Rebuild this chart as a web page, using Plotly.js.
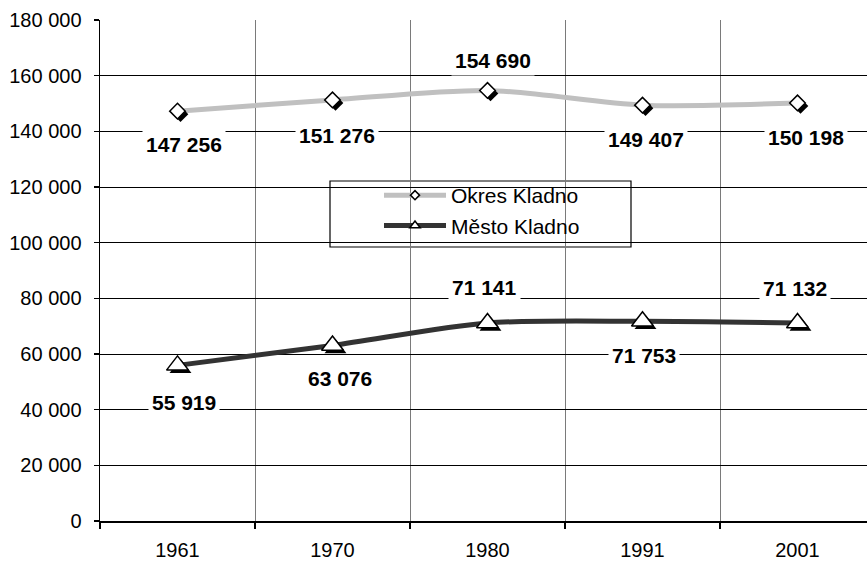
<!DOCTYPE html>
<html>
<head>
<meta charset="utf-8">
<script src="https://cdn.plot.ly/plotly-3.0.1.min.js"></script>
<style>html,body{margin:0;padding:0;background:#fff;overflow:hidden;}</style>
</head>
<body>
<div id="chart" style="width:867px;height:562px;"></div>
<script>
// ---- data ----
const years = ["1961", "1970", "1980", "1991", "2001"];
const okresName = "Okres Kladno";
const mestoName = "Město Kladno";
const okresValues = [147256, 151276, 154690, 149407, 150198];
const mestoValues = [55919, 63076, 71141, 71753, 71132];
const yTickValues = [0, 20000, 40000, 60000, 80000, 100000, 120000, 140000, 160000, 180000];

// ---- layout constants (positions / styles) ----
const W = 867, H = 562, L = 100, T = 20, B = 41;
const plotW = W - L, plotH = H - T - B;
const catPx = 155;
const xr = [-0.5, -0.5 + plotW / catPx];
const yr = [0, 180000];
const unitY = (yr[1] - yr[0]) / plotH;
const sh = 3; // shadow offset px
const FONT = "Liberation Sans, Arial, sans-serif";

const okresShift = [[6, -33], [4, -36], [5, 30], [3, -34], [8, -35]];
const mestoShift = [[6, -37], [7, -33], [-3, 35], [1, -34], [-3, 35]];

function fmt(v) { return String(v).replace(/\B(?=(\d{3})+(?!\d))/g, "\u00a0"); }

const okresColor = "#c0c0c0", mestoColor = "#333333";

const traces = [
  // lines
  {x: years, y: okresValues, type: "scatter", mode: "lines", line: {color: okresColor, width: 5, shape: "spline", smoothing: 0.8}, showlegend: false, hoverinfo: "skip"},
  {x: years, y: mestoValues, type: "scatter", mode: "lines", line: {color: mestoColor, width: 5, shape: "spline", smoothing: 0.8}, showlegend: false, hoverinfo: "skip"},
  // shadows
  {x: years, y: okresValues, xaxis: "x2", yaxis: "y2", type: "scatter", mode: "markers", marker: {symbol: "diamond", size: 12, color: "#000", line: {width: 0}}, showlegend: false, hoverinfo: "skip"},
  {x: years, y: mestoValues, xaxis: "x2", yaxis: "y2", type: "scatter", mode: "markers", marker: {symbol: "triangle-up", size: 19, color: "#000", line: {width: 0}}, showlegend: false, hoverinfo: "skip"},
  // white markers
  {x: years, y: okresValues, xaxis: "x3", yaxis: "y3", type: "scatter", mode: "markers", marker: {symbol: "diamond", size: 12, color: "#fff", line: {width: 1.5, color: "#000"}}, showlegend: false, hoverinfo: "skip"},
  {x: years, y: mestoValues, xaxis: "x3", yaxis: "y3", type: "scatter", mode: "markers", marker: {symbol: "triangle-up", size: 19, color: "#fff", line: {width: 1.5, color: "#000"}}, showlegend: false, hoverinfo: "skip"},
  // legend entries
  {x: [null], y: [null], name: okresName, type: "scatter", mode: "lines+markers", line: {color: okresColor, width: 5}, marker: {symbol: "diamond", size: 7, color: "#fff", line: {width: 1.5, color: "#000"}}},
  {x: [null], y: [null], name: mestoName, type: "scatter", mode: "lines+markers", line: {color: mestoColor, width: 5}, marker: {symbol: "triangle-up", size: 9, color: "#fff", line: {width: 1.5, color: "#000"}}}
];

const annotations = [];
function addLabels(values, shifts) {
  values.forEach((v, i) => annotations.push({
    x: i, y: v, xref: "x", yref: "y", text: "<b>" + fmt(v) + "</b>", showarrow: false,
    xshift: shifts[i][0], yshift: shifts[i][1], bgcolor: "#fff", borderpad: 3,
    font: {family: FONT, size: 21, color: "#000"}
  }));
}
addLabels(okresValues, okresShift);
addLabels(mestoValues, mestoShift);

const px = p => (p - L) / plotW;
const py = p => (H - B - p) / plotH;

const layout = {
  width: W, height: H,
  margin: {l: L, r: 0, t: T, b: B, pad: 0},
  paper_bgcolor: "#fff", plot_bgcolor: "#fff",
  separators: ", ",
  font: {family: FONT, size: 20, color: "#000"},
  showlegend: true,
  legend: {x: px(379), y: py(175), xanchor: "left", yanchor: "top", bgcolor: "rgba(0,0,0,0)", borderwidth: 0, itemwidth: 62, font: {family: FONT, size: 21, color: "#000"}, tracegroupgap: 0},
  xaxis: {type: "category", categoryarray: years, range: xr, tickson: "boundaries", ticks: "outside", ticklen: 6, tickcolor: "#000", tickwidth: 1.5,
          showgrid: true, gridcolor: "#7a7a7a", gridwidth: 1, showline: true, linecolor: "#000", linewidth: 1.5, ticklabelstandoff: 10,
          tickfont: {family: FONT, size: 20, color: "#000"}, fixedrange: true},
  yaxis: {range: yr, tickvals: yTickValues, tickformat: ",d", ticks: "outside", ticklen: 5, tickcolor: "#000", tickwidth: 1.5,
          showgrid: true, gridcolor: "#000", gridwidth: 1, zeroline: false, showline: true, linecolor: "#000", linewidth: 1.5, ticklabelstandoff: 8,
          tickfont: {family: FONT, size: 20, color: "#000"}, fixedrange: true},
  xaxis2: {type: "category", categoryarray: years, overlaying: "x", range: [xr[0] - sh / catPx, xr[1] - sh / catPx], visible: false, fixedrange: true},
  yaxis2: {overlaying: "y", range: [yr[0] + sh * unitY, yr[1] + sh * unitY], visible: false, fixedrange: true},
  xaxis3: {type: "category", categoryarray: years, overlaying: "x", range: xr, visible: false, fixedrange: true},
  yaxis3: {overlaying: "y", range: yr, visible: false, fixedrange: true},
  shapes: [{type: "rect", xref: "paper", yref: "paper", x0: px(330), x1: px(631), y0: py(247), y1: py(181), fillcolor: "#fff", line: {color: "#000", width: 1.2}, layer: "between"}],
  annotations: annotations
};

Plotly.newPlot("chart", traces, layout, {displayModeBar: false, staticPlot: true});
</script>
</body>
</html>
